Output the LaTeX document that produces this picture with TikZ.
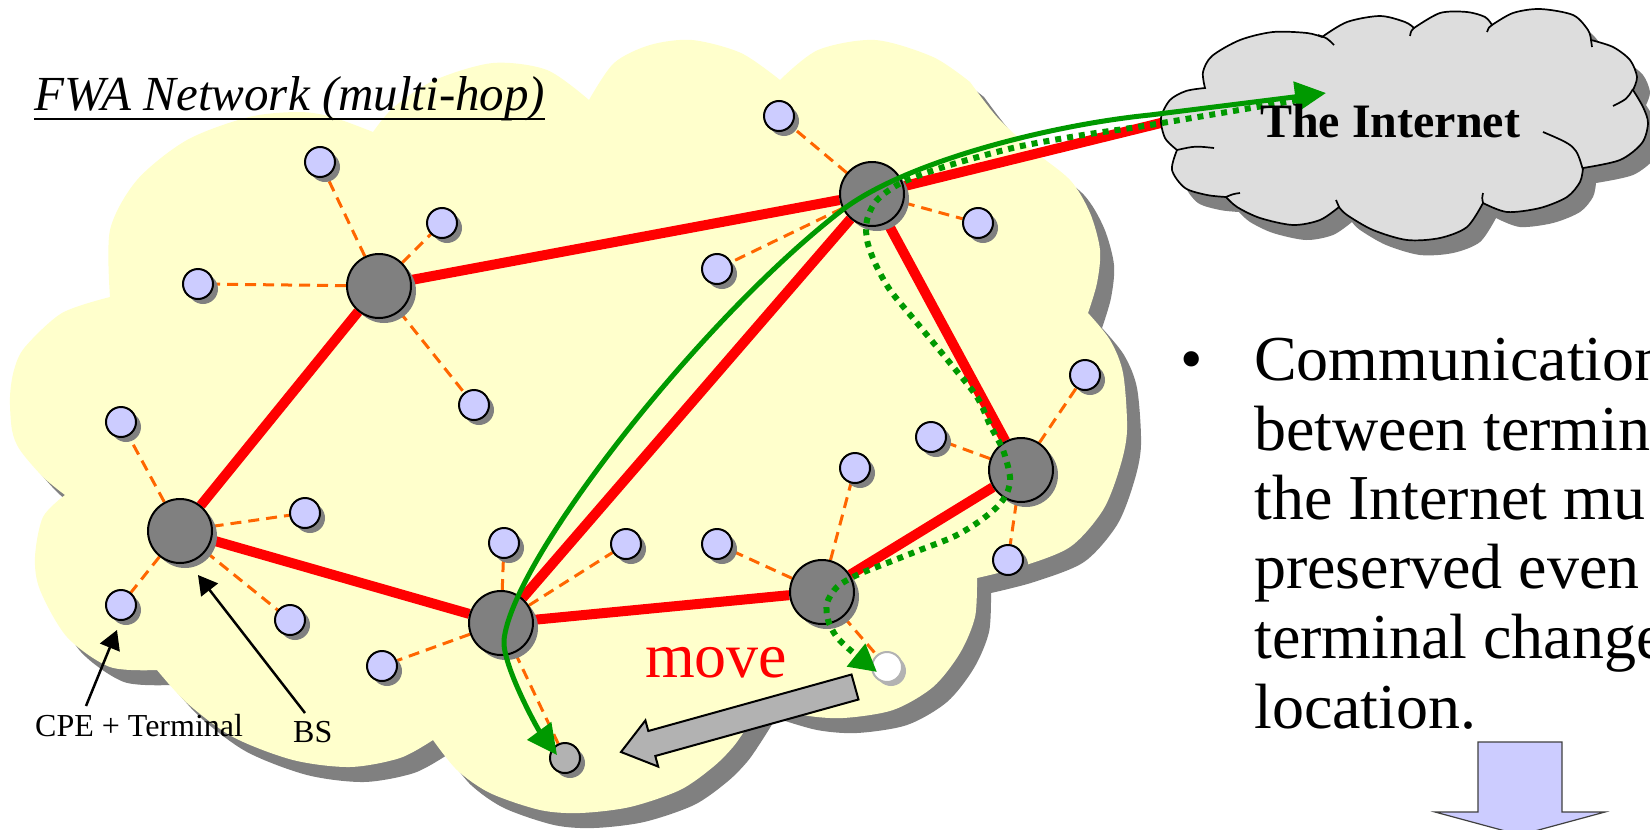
\documentclass[tikz,border=0pt]{standalone}
\usepackage{fontspec}
\setmainfont{Liberation Serif}
\usetikzlibrary{arrows.meta,shadows}
\definecolor{cloudyellow}{HTML}{FFFFCC}
\definecolor{shadowgray}{HTML}{808080}
\definecolor{cpeblue}{HTML}{CCCCFF}
\definecolor{bsgray}{HTML}{808080}
\definecolor{linkorange}{HTML}{FF6600}
\definecolor{linkred}{HTML}{FF0000}
\definecolor{pathgreen}{HTML}{009900}
\definecolor{inetgray}{HTML}{DDDDDD}
\definecolor{movegray}{HTML}{B2B2B2}
\definecolor{arrowblue}{HTML}{CCCCFF}
\pgfdeclarelayer{back}
\pgfdeclarelayer{links}
\pgfdeclarelayer{inet}
\pgfdeclarelayer{front}
\pgfsetlayers{back,links,inet,main,front}
\newcommand{\fwacloudpath}{plot[smooth] coordinates {(65,495) (43,477) (20,450) (12,430) (10,397) (14,370) (25,347) (62,313) (110,297)}
 -- plot[smooth] coordinates {(110,297) (110,230) (137,180) (187,140) (249,117) (299,112) (332,117) (373,132)}
 -- plot[smooth] coordinates {(373,132) (394,107) (435,80) (493,63) (547,70) (589,100)}
 -- plot[smooth] coordinates {(589,100) (614,63) (650,45) (692,40) (741,53) (780,80)}
 -- plot[smooth] coordinates {(780,80) (818,50) (875,40) (933,57) (970,82)}
 -- plot[smooth] coordinates {(970,82) (997,117) (1030,148) (1070,180) (1090,213) (1100,250) (1097,283) (1088,313)}
 -- plot[smooth] coordinates {(1088,313) (1110,340) (1123,373) (1127,430) (1120,467) (1103,510) (1070,547) (1020,567) (977,578)}
 -- plot[smooth] coordinates {(977,578) (975,617) (960,653) (933,687) (893,710) (843,718) (803,715) (762,703)}
 -- plot[smooth] coordinates {(762,703) (747,727) (733,747) (713,767) (680,790) (630,807) (580,813) (540,810) (490,793) (457,770) (433,740)}
 -- plot[smooth] coordinates {(433,740) (400,758) (350,767) (293,760) (233,737) (187,703) (157,670)}
 -- plot[smooth] coordinates {(157,670) (110,667) (67,637) (40,590) (35,557) (43,517) (65,495)} -- cycle}
\newcommand{\inetcloudpath}{plot[smooth] coordinates {(1177,150) (1165,138) (1161,118) (1170,100) (1186,91) (1205,88)}
 -- plot[smooth] coordinates {(1205,88) (1203,72) (1212,56) (1240,40) (1273,32) (1307,33) (1322,37)}
 -- plot[smooth] coordinates {(1322,37) (1347,22) (1380,16) (1405,22) (1414,28)}
 -- plot[smooth] coordinates {(1414,28) (1440,13) (1467,12) (1485,17) (1492,25)}
 -- plot[smooth] coordinates {(1492,25) (1513,13) (1540,9) (1573,15) (1588,30) (1591,40)}
 -- plot[smooth] coordinates {(1591,40) (1613,47) (1630,60) (1637,77) (1633,90)}
 -- plot[smooth] coordinates {(1633,90) (1643,107) (1648,123) (1642,143) (1620,160) (1583,168)}
 -- plot[smooth] coordinates {(1583,168) (1580,182) (1567,197) (1540,208) (1507,212) (1483,203)}
 -- plot[smooth] coordinates {(1483,203) (1467,227) (1440,238) (1407,240) (1373,230) (1347,215) (1339,207)}
 -- plot[smooth] coordinates {(1339,207) (1320,220) (1293,225) (1260,218) (1237,207) (1226,197)}
 -- plot[smooth] coordinates {(1226,197) (1207,195) (1185,188) (1172,170) (1177,150)} -- cycle}
\begin{document}
\begin{tikzpicture}[x=1pt,y=-1pt,
  cpe/.style={circle, minimum size=30pt, inner sep=0pt, fill=cpeblue, draw=black, line width=2pt,
    drop shadow={shadow xshift=5pt, shadow yshift=-5pt, fill=shadowgray, opacity=1}},
  bs/.style={circle, minimum size=64pt, inner sep=0pt, fill=bsgray, draw=black, line width=2pt,
    drop shadow={shadow xshift=5pt, shadow yshift=-5pt, fill=shadowgray, opacity=1}},
  newterm/.style={cpe, fill=movegray},
  oldterm/.style={circle, minimum size=30pt, inner sep=0pt, fill=white, draw=movegray, line width=2pt,
    drop shadow={shadow xshift=4pt, shadow yshift=-4pt, fill=movegray, opacity=1}},
  cpelink/.style={draw=linkorange, line width=3pt, dash pattern=on 11pt off 7pt},
  bslink/.style={draw=linkred, line width=10pt},
  gsolid/.style={draw=pathgreen, line width=5pt},
  gdotted/.style={draw=pathgreen, line width=6pt, dash pattern=on 6pt off 6pt},
  labeltext/.style={inner sep=0pt, font=\fontsize{32}{36}\selectfont},
  bullettext/.style={inner sep=0pt, anchor=base west, font=\fontsize{64}{70}\selectfont},
  pointer/.style={draw=black, line width=2.5pt, -{Triangle[length=19pt, width=21pt]}}
]
\useasboundingbox (0,0) rectangle (1650,830);

% ---------- background cloud ----------
\begin{pgfonlayer}{back}
  \fill[white] (0,0) rectangle (1650,830);
  \begin{scope}[shift={(14,15)}]
    \fill[shadowgray] \fwacloudpath;
  \end{scope}
  \fill[cloudyellow] \fwacloudpath;
\end{pgfonlayer}

% ---------- nodes ----------
\node[bs] (b1) at (379,286) {};
\node[bs] (b2) at (872,194) {};
\node[bs] (b3) at (180,531) {};
\node[bs] (b4) at (501,623) {};
\node[bs] (b5) at (822,592) {};
\node[bs] (b6) at (1021,470) {};

\node[cpe] (c1) at (320,162) {};
\node[cpe] (c2) at (442,223) {};
\node[cpe] (c3) at (198,284) {};
\node[cpe] (c4) at (474,405) {};
\node[cpe] (c5) at (779,116) {};
\node[cpe] (c6) at (978,223) {};
\node[cpe] (c7) at (717,269) {};
\node[cpe] (c8) at (121,422) {};
\node[cpe] (c9) at (305,513) {};
\node[cpe] (c10) at (121,605) {};
\node[cpe] (c11) at (290,620) {};
\node[cpe] (c12) at (382,666) {};
\node[cpe] (c13) at (504,543) {};
\node[cpe] (c14) at (626,544) {};
\node[cpe] (c15) at (717,544) {};
\node[cpe] (c16) at (855,468) {};
\node[cpe] (c17) at (931,437) {};
\node[cpe] (c18) at (1085,375) {};
\node[cpe] (c19) at (1008,560) {};
\node[newterm] (newt) at (565,758) {};
\node[oldterm] (oldt) at (887,667) {};

\coordinate (inetred) at (1230,106);
\coordinate (inettip) at (1326,93);
\coordinate (dotstart) at (1298,100);
\coordinate (newtip) at (557,755);
\coordinate (oldtip) at (877,672);

% ---------- links ----------
\begin{pgfonlayer}{links}
  \foreach \c in {c1,c2,c3,c4} \draw[cpelink] (b1) -- (\c);
  \foreach \c in {c5,c6,c7} \draw[cpelink] (b2) -- (\c);
  \foreach \c in {c8,c9,c10,c11} \draw[cpelink] (b3) -- (\c);
  \foreach \c in {c12,c13,c14,newt} \draw[cpelink] (b4) -- (\c);
  \foreach \c in {c15,c16,oldt} \draw[cpelink] (b5) -- (\c);
  \foreach \c in {c17,c18,c19} \draw[cpelink] (b6) -- (\c);
  \draw[bslink] (b1) -- (b2);
  \draw[bslink] (b1) -- (b3);
  \draw[bslink] (b3) -- (b4);
  \draw[bslink] (b4) -- (b5);
  \draw[bslink] (b5) -- (b6);
  \draw[bslink] (b6) -- (b2);
  \draw[bslink] (b4) -- (b2);
  \draw[bslink] (b2) -- (inetred);
\end{pgfonlayer}

% ---------- the Internet cloud ----------
\begin{pgfonlayer}{inet}
  \begin{scope}[shift={(13,15)}]
    \fill[shadowgray] \inetcloudpath;
  \end{scope}
  \filldraw[fill=inetgray, draw=black, line width=1.7pt] \inetcloudpath;
  \begin{scope}[draw=black, line width=1.7pt]
    \draw (1318,35) .. controls (1327,38) .. (1334,45);
    \draw (1414,28) .. controls (1411,31) .. (1410,36);
    \draw (1492,25) .. controls (1489,27) .. (1487,32);
    \draw (1591,40) .. controls (1592,43) .. (1592,47);
    \draw (1633,89) .. controls (1627,99) .. (1613,106);
    \draw (1583,170) .. controls (1576,146) .. (1543,132);
    \draw (1483,203) .. controls (1482,198) .. (1483,193);
    \draw (1339,207) .. controls (1337,204) .. (1336,200);
    \draw (1226,197) .. controls (1233,194) .. (1240,193);
    \draw (1177,150) .. controls (1195,146) .. (1214,148);
  \end{scope}
\end{pgfonlayer}

% ---------- front ----------
\begin{pgfonlayer}{front}
  % green paths
  \draw[gsolid, {Triangle[length=30pt, width=29pt]}-{Triangle[length=31pt, width=30pt]}]
    (newtip) .. controls (537,728) and (502,664) .. (504,640)
    .. controls (512,560) and (700,320) .. (841,211)
    .. controls (904,162) and (1050,125) .. (1150,115) -- (inettip);
  \draw[gdotted, -{Triangle[length=27pt, width=28pt]}]
    plot[smooth] coordinates {(dotstart) (1150,125) (1083,135) (1017,147) (950,165) (903,182) (877,200) (867,220) (867,240) (875,263) (890,290) (917,323) (950,363) (977,397) (990,425) (1003,450) (1010,477) (1007,493) (997,507) (977,523) (953,537) (920,550) (887,563) (857,575) (837,587) (827,603) (828,620) (836,636) (849,649) (oldtip)};

  % move arrow
  \filldraw[fill=movegray, draw=black, line width=2pt, line join=miter]
    (851.5,674.5) -- (648.3,731) -- (645.4,720.4) -- (621,752) -- (658.2,766.6) -- (655.3,756) -- (858.5,699.5) -- cycle;
  \node[anchor=base west, inner sep=0pt, text=linkred, font=\fontsize{64}{70}\selectfont] (movelabel) at (645,677) {move};

  % texts
  \node[anchor=base west, inner sep=0pt, font=\fontsize{49}{54}\selectfont\itshape] (title) at (34,110) {FWA Network (multi-hop)};
  \draw[line width=2.2pt] ([yshift=-9pt]title.base west) -- ([yshift=-9pt]title.base east);
  \node[anchor=base, inner sep=0pt, font=\fontsize{48}{54}\selectfont\bfseries] (inettext) at (1390,137) {The Internet};

  \node[labeltext, anchor=base west] (cpelabel) at (35,736) {CPE + Terminal};
  \node[labeltext, anchor=base west] (bslabel) at (293,742) {BS};
  \coordinate (cpefrom) at (86,706);
  \coordinate (cpeto) at (117,630);
  \coordinate (bsfrom) at (305,713);
  \coordinate (bsto) at (198,575);
  \draw[pointer] (cpefrom) -- (cpeto);
  \draw[pointer] (bsfrom) -- (bsto);

  \node[bullettext] (bullet) at (1180,380) {•};
  \node[bullettext] (l1) at (1254,380) {Communication};
  \node[bullettext] (l2) at (1254,450) {between termin};
  \node[bullettext] (l3) at (1254,519) {the Internet mu};
  \node[bullettext] (l4) at (1254,588) {preserved even};
  \node[bullettext] (l5) at (1254,658) {terminal change};
  \node[bullettext] (l6) at (1254,728) {location.};

  % blue down arrow
  \filldraw[fill=arrowblue, draw=black!75, line width=1.2pt]
    (1478,742) -- (1562,742) -- (1562,812) -- (1605,812) -- (1520,835) -- (1435,812) -- (1478,812) -- cycle;
\end{pgfonlayer}
\end{tikzpicture}
\end{document}
